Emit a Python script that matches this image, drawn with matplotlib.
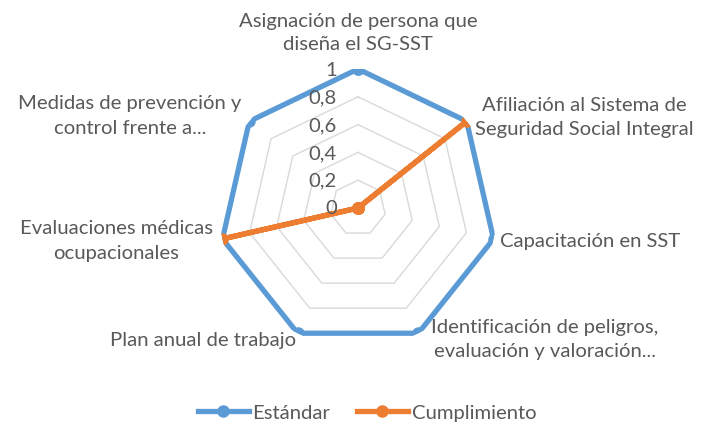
import numpy as np
import matplotlib.pyplot as plt
from matplotlib.lines import Line2D
from matplotlib.transforms import offset_copy

categorias = ["Asignación de persona que\ndiseña el SG-SST",
              "Afiliación al Sistema de\nSeguridad Social Integral",
              "Capacitación en SST",
              "Identificación de peligros,\nevaluación y valoración...",
              "Plan anual de trabajo",
              "Evaluaciones médicas\nocupacionales",
              "Medidas de prevención y\ncontrol frente a..."]
estandar = [1, 1, 1, 1, 1, 1, 1]
cumplimiento = [0, 1, 0, 0, 0, 1, 0]
ticks = [0, 0.2, 0.4, 0.6, 0.8, 1]
tick_labels = ["0", "0,2", "0,4", "0,6", "0,8", "1"]

plt.rcParams['font.family'] = ['Lato', 'DejaVu Sans']
gris = '#595959'
azul = '#5B9BD5'
naranja = '#ED7D31'
fs = 14.6

W, H = 701, 431
fig = plt.figure(figsize=(W / 100, H / 100), dpi=100)
cx, cy, r = 358, 209, 139
ax = fig.add_axes([(cx - r) / W, (H - cy - r) / H, 2 * r / W, 2 * r / H], polar=True)
ax.set_theta_zero_location('N')
ax.set_theta_direction(-1)
ax.set_ylim(0, 1)
ax.grid(False)
ax.set_xticks([])
ax.set_yticks([])
ax.spines['polar'].set_visible(False)
ax.patch.set_alpha(0)

n = len(categorias)
ang = np.linspace(0, 2 * np.pi, n, endpoint=False)
ang_c = np.append(ang, ang[0])

# rejilla poligonal
for t in ticks[1:]:
    ax.plot(ang_c, [t] * (n + 1), color='#D9D9D9', lw=1, zorder=1)

ax.plot(ang_c, estandar + estandar[:1], color=azul, lw=3.8, marker='o', ms=8, zorder=3)
ax.plot(ang_c, cumplimiento + cumplimiento[:1], color=naranja, lw=3.8, marker='o', ms=8, zorder=4)

# etiquetas del eje radial, desplazadas a la izquierda del eje
tr = offset_copy(ax.transData, fig=fig, x=-21, y=0, units='dots')
for t, lab in zip(ticks, tick_labels):
    ax.text(0, t, lab, transform=tr, ha='right', va='center', fontsize=fs,
            color=gris, zorder=5)

def px(x, y, s, ha='center', va='center'):
    fig.text(x / W, 1 - y / H, s, ha=ha, va=va, fontsize=fs, color=gris,
             linespacing=1.5, multialignment='center')

px(358, 33, categorias[0])
px(584, 118, categorias[1])
px(500, 241, categorias[2], ha='left')
px(545, 340, categorias[3])
px(296, 341, categorias[4], ha='right')
px(116, 241, categorias[5])
px(130, 116, categorias[6])

handles = [Line2D([], [], color=azul, lw=3.8, marker='o', ms=8),
           Line2D([], [], color=naranja, lw=3.8, marker='o', ms=8)]
fig.legend(handles, ["Estándar", "Cumplimiento"], loc='center', bbox_to_anchor=(367 / W, 1 - 413 / H),
           ncol=2, frameon=False, fontsize=fs, handlelength=2.5, handletextpad=0.2,
           columnspacing=1.3, labelcolor=gris)

fig.savefig('out.png', dpi=100)
